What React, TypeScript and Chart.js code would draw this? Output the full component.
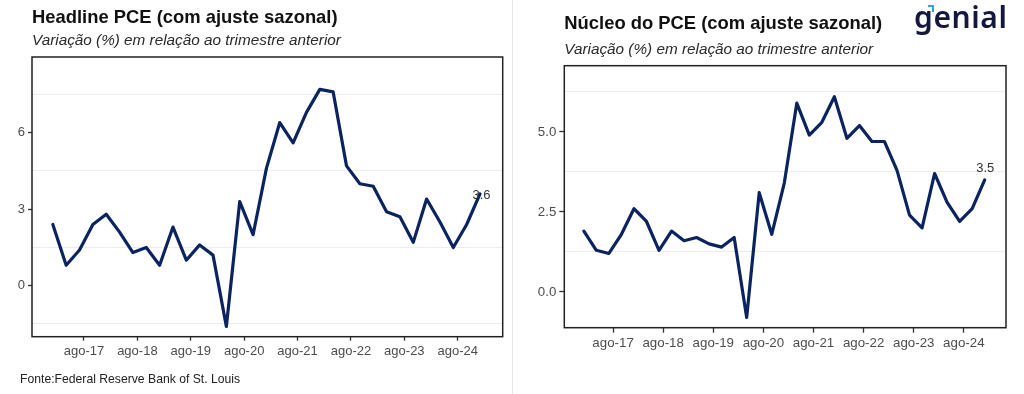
import React, { useEffect, useRef } from 'react';
import { Chart, registerables } from 'chart.js';

Chart.register(...registerables);

// Quarter start dates (YYYY-MM)
const quarters = [
  '2017-01', '2017-04', '2017-07', '2017-10',
  '2018-01', '2018-04', '2018-07', '2018-10',
  '2019-01', '2019-04', '2019-07', '2019-10',
  '2020-01', '2020-04', '2020-07', '2020-10',
  '2021-01', '2021-04', '2021-07', '2021-10',
  '2022-01', '2022-04', '2022-07', '2022-10',
  '2023-01', '2023-04', '2023-07', '2023-10',
  '2024-01', '2024-04', '2024-07', '2024-10',
  '2025-01',
];

const headlinePce = [
  2.4, 0.8, 1.4, 2.4,
  2.8, 2.1, 1.3, 1.5,
  0.8, 2.3, 1.0, 1.6,
  1.2, -1.6, 3.3, 2.0,
  4.6, 6.4, 5.6, 6.8,
  7.7, 7.6, 4.7, 4.0,
  3.9, 2.9, 2.7, 1.7,
  3.4, 2.5, 1.5, 2.4,
  3.6,
];

const corePce = [
  1.9, 1.3, 1.2, 1.8,
  2.6, 2.2, 1.3, 1.9,
  1.6, 1.7, 1.5, 1.4,
  1.7, -0.8, 3.1, 1.8,
  3.4, 5.9, 4.9, 5.3,
  6.1, 4.8, 5.2, 4.7,
  4.7, 3.8, 2.4, 2.0,
  3.7, 2.8, 2.2, 2.6,
  3.5,
];

const xTickDates = ['2017-08', '2018-08', '2019-08', '2020-08', '2021-08', '2022-08', '2023-08', '2024-08'];
const xTickLabels = ['ago-17', 'ago-18', 'ago-19', 'ago-20', 'ago-21', 'ago-22', 'ago-23', 'ago-24'];

const headlineGrid = [-1.5, 0, 1.5, 3, 4.5, 6, 7.5];
const headlineMajor = [0, 3, 6];
const headlineMajorLabels = ['0', '3', '6'];

const coreGrid = [0, 1.25, 2.5, 3.75, 5, 6.25];
const coreMajor = [0, 2.5, 5];
const coreMajorLabels = ['0.0', '2.5', '5.0'];

const FONT = '"Liberation Sans", Arial, sans-serif';
const LINE_COLOR = '#0b2461';

const toYear = (s: string) => {
  const [y, m] = s.split('-').map(Number);
  return y + (m - 1) / 12;
};

const panelPlugin = {
  id: 'panelBox',
  afterDatasetsDraw(chart: any, _args: any, opts: any) {
    const { ctx, chartArea: a } = chart;
    ctx.save();
    ctx.strokeStyle = '#222';
    ctx.lineWidth = 1.5;
    ctx.strokeRect(a.left, a.top, a.right - a.left, a.bottom - a.top);
    const meta = chart.getDatasetMeta(0);
    const pt = meta.data[meta.data.length - 1];
    const ds = chart.data.datasets[0].data;
    const last = ds[ds.length - 1].y;
    ctx.font = `13px ${FONT}`;
    ctx.fillStyle = '#333';
    ctx.textAlign = 'center';
    ctx.textBaseline = 'middle';
    ctx.fillText(Number(last).toFixed(1), pt.x + opts.dx, pt.y + opts.dy);
    ctx.restore();
  },
};

type PanelProps = {
  values: number[];
  grid: number[];
  major: number[];
  majorLabels: string[];
  yMin: number;
  yMax: number;
  yWidth: number;
  padding: { left: number; right: number; top: number; bottom: number };
  tickLen: number;
  fontSize: number;
  labelDx: number;
  labelDy: number;
  left: number;
};

function Panel(p: PanelProps) {
  const ref = useRef<HTMLCanvasElement | null>(null);
  useEffect(() => {
    if (!ref.current) return;
    const isMajor = (v: number) => p.major.some((m) => Math.abs(m - v) < 1e-6);
    const chart = new Chart(ref.current, {
      type: 'line',
      data: {
        datasets: [
          {
            data: quarters.map((q, i) => ({ x: toYear(q), y: p.values[i] })),
            borderColor: LINE_COLOR,
            borderWidth: 3.2,
            pointRadius: 0,
            tension: 0,
            borderJoinStyle: 'round',
            borderCapStyle: 'round',
            fill: false,
          },
        ],
      },
      options: {
        responsive: false,
        animation: false,
        devicePixelRatio: 1,
        layout: { padding: p.padding },
        plugins: {
          legend: { display: false },
          tooltip: { enabled: false },
          title: { display: false },
          panelBox: { dx: p.labelDx, dy: p.labelDy },
        } as any,
        scales: {
          x: {
            type: 'linear',
            min: 2016.61,
            max: 2025.425,
            afterBuildTicks: (s: any) => {
              s.ticks = xTickDates.map((d) => ({ value: toYear(d) }));
            },
            afterFit: (s: any) => {
              s.height = 30;
            },
            border: { display: false },
            grid: {
              display: true,
              drawOnChartArea: false,
              drawTicks: true,
              tickLength: p.tickLen,
              tickColor: '#333',
              tickWidth: 1.3,
            },
            ticks: {
              autoSkip: false,
              maxRotation: 0,
              padding: 3,
              color: '#4d4d4d',
              font: { family: FONT, size: p.fontSize },
              callback: (_v: any, i: number) => xTickLabels[i],
            },
          },
          y: {
            type: 'linear',
            min: p.yMin,
            max: p.yMax,
            afterBuildTicks: (s: any) => {
              s.ticks = p.grid.map((v) => ({ value: v }));
            },
            afterFit: (s: any) => {
              s.width = p.yWidth;
            },
            border: { display: false },
            grid: {
              display: true,
              drawOnChartArea: true,
              drawTicks: true,
              tickLength: p.tickLen,
              color: (c: any) => (c.tick && isMajor(c.tick.value) ? 'rgba(0,0,0,0)' : '#ededed'),
              lineWidth: 1,
              tickColor: (c: any) => (c.tick && isMajor(c.tick.value) ? '#333' : 'rgba(0,0,0,0)'),
              tickWidth: 1.3,
            },
            ticks: {
              autoSkip: false,
              padding: 3,
              color: '#4d4d4d',
              font: { family: FONT, size: p.fontSize },
              callback: (v: any) => {
                const idx = p.major.findIndex((m) => Math.abs(m - Number(v)) < 1e-6);
                return idx >= 0 ? p.majorLabels[idx] : '';
              },
            },
          },
        },
      },
      plugins: [panelPlugin],
    } as any);
    return () => chart.destroy();
  }, []);
  return (
    <canvas
      ref={ref}
      width={512}
      height={394}
      style={{ position: 'absolute', left: p.left, top: 0, width: 512, height: 394 }}
    />
  );
}

const txt = (extra: React.CSSProperties): React.CSSProperties => ({
  position: 'absolute',
  whiteSpace: 'nowrap',
  fontFamily: FONT,
  margin: 0,
  ...extra,
});

export default function App() {
  return (
    <div
      style={{
        position: 'absolute',
        left: 0,
        top: 0,
        width: 1024,
        height: 394,
        background: '#fff',
        overflow: 'hidden',
      }}
    >
      <Panel
        values={headlinePce}
        grid={headlineGrid}
        major={headlineMajor}
        majorLabels={headlineMajorLabels}
        yMin={-2.0}
        yMax={8.97}
        yWidth={32}
        padding={{ left: 0, right: 9.3, top: 57, bottom: 27.3 }}
        tickLen={4}
        fontSize={13}
        labelDx={1.5}
        labelDy={1.5}
        left={0}
      />
      <Panel
        values={corePce}
        grid={coreGrid}
        major={coreMajor}
        majorLabels={coreMajorLabels}
        yMin={-1.12}
        yMax={7.07}
        yWidth={52.3}
        padding={{ left: 0, right: 18, top: 65.7, bottom: 36.3 }}
        tickLen={5}
        fontSize={13.3}
        labelDx={0.6}
        labelDy={-11}
        left={512}
      />
      <div style={{ position: 'absolute', left: 512, top: 0, width: 1, height: 394, background: '#e6e6e6' }} />

      <div style={txt({ left: 32, top: 7.7, fontSize: 18.4, lineHeight: '18.4px', fontWeight: 700, color: '#111' })}>
        Headline PCE (com ajuste sazonal)
      </div>
      <div style={txt({ left: 32, top: 32.05, fontSize: 15.3, lineHeight: '15.3px', fontStyle: 'italic', color: '#2a2a2a' })}>
        Variação (%) em relação ao trimestre anterior
      </div>

      <div style={txt({ left: 564.3, top: 14.4, fontSize: 18.4, lineHeight: '18.4px', fontWeight: 700, color: '#111' })}>
        Núcleo do PCE (com ajuste sazonal)
      </div>
      <div style={txt({ left: 564.3, top: 41.35, fontSize: 15.3, lineHeight: '15.3px', fontStyle: 'italic', color: '#2a2a2a' })}>
        Variação (%) em relação ao trimestre anterior
      </div>

      <div style={txt({ left: 20, top: 373, fontSize: 12.2, lineHeight: '12.2px', color: '#222' })}>
        Fonte:Federal Reserve Bank of St. Louis
      </div>

      <div
        style={txt({
          left: 914,
          top: 1.5,
          fontSize: 30,
          lineHeight: '30px',
          fontFamily: '"Noto Sans", sans-serif',
          fontWeight: 600,
          letterSpacing: 0.6,
          color: '#15173f',
        })}
      >
        genial
      </div>
      <div
        style={{
          position: 'absolute',
          left: 928,
          top: 5,
          width: 4,
          height: 5,
          borderTop: '2px solid #2aa7e1',
          borderRight: '2px solid #2aa7e1',
        }}
      />
    </div>
  );
}
